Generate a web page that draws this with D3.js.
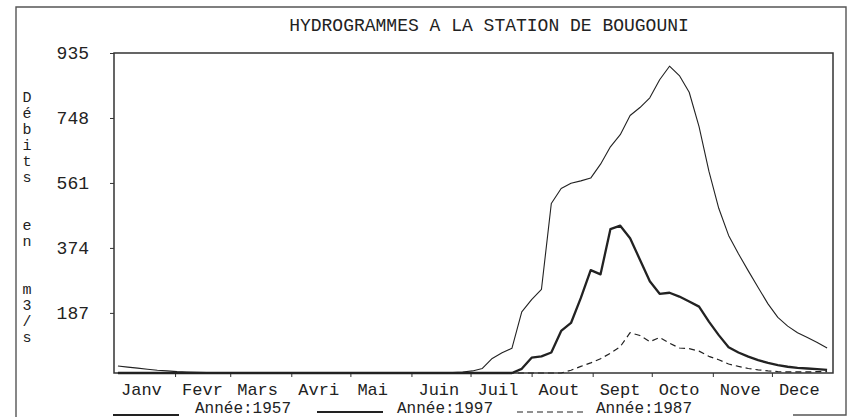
<!DOCTYPE html>
<html>
<head>
<meta charset="utf-8">
<script src="https://cdn.jsdelivr.net/npm/d3@7"></script>
<style>
  body { margin: 0; background: #fff; }
  text { font-family: 'Liberation Mono', 'DejaVu Sans Mono', monospace; fill: #222; }
</style>
</head>
<body>
<div id="chart"></div>
<script>
// mois et debits par pentade (73 pentades, m3/s)
var months = ['Janv', 'Fevr', 'Mars', 'Avri', 'Mai', 'Juin', 'Juil', 'Aout', 'Sept', 'Octo', 'Nove', 'Dece']
var monthStarts = [0, 31, 59, 90, 120, 151, 181, 212, 243, 273, 304, 334, 365]
var yTicks = [187, 374, 561, 748, 935]
var yLabel = 'Débits en m3/s'

var q1957 = [34, 31, 28, 25, 22, 20, 18, 17, 16, 15, 14, 13, 12, 12, 11, 11, 10, 10, 10, 9,
  9, 9, 9, 9, 10, 10, 11, 11, 12, 12, 13, 13, 14, 14, 15, 17, 20, 27, 56, 72,
  85, 190, 225, 255, 502, 545, 560, 567, 575, 615, 665, 700, 755, 778, 806, 858, 897, 870, 822, 723,
  595, 488, 410, 357, 308, 260, 213, 174, 149, 130, 116, 102, 86]

var q1997 = [10, 9, 9, 8, 8, 7, 7, 7, 6, 6, 6, 5, 5, 5, 5, 5, 5, 5, 5, 5,
  5, 5, 5, 5, 5, 5, 5, 5, 5, 5, 5, 5, 5, 5, 5, 5, 6, 7, 8, 10,
  12, 26, 58, 62, 73, 135, 158, 230, 310, 298, 428, 438, 402, 340, 278, 242, 245, 234, 220, 205,
  162, 123, 88, 73, 61, 51, 43, 37, 32, 29, 27, 25, 23]

var q1987 = [12, 11, 11, 10, 10, 9, 9, 8, 8, 8, 7, 7, 7, 7, 6, 6, 6, 6, 6, 6,
  6, 6, 6, 6, 6, 6, 6, 6, 6, 6, 6, 6, 6, 6, 6, 7, 7, 7, 8, 8,
  8, 9, 9, 10, 11, 14, 22, 33, 43, 55, 71, 90, 130, 122, 104, 116, 100, 86, 84, 77,
  62, 52, 40, 33, 27, 23, 20, 18, 17, 17, 17, 18, 18]

var series = [
  { name: 'Année:1957', values: q1957, width: 1.1, dash: null, lx: 113, tx: 195, ly: 415 },
  { name: 'Année:1997', values: q1997, width: 2.3, dash: null, lx: 317, tx: 397, ly: 412 },
  { name: 'Année:1987', values: q1987, width: 1.2, dash: '6,4', lx: 517, tx: 596, ly: 412 }
]

var W = 849
var H = 417
var svg = d3.select('#chart').append('svg')
  .attr('width', W)
  .attr('height', H)

var x = d3.scaleLinear().domain([0, 365]).range([114, 833])
var y = d3.scaleLinear().domain([14, 935]).range([373, 53]).clamp(true)

// cadre exterieur (le bas n'est visible qu'a droite)
svg.append('path')
  .attr('d', 'M16,417 V7 H846 V415 H793')
  .attr('fill', 'none').attr('stroke', '#555').attr('stroke-width', 1.4)

svg.append('text')
  .attr('x', 489).attr('y', 31)
  .attr('text-anchor', 'middle')
  .style('font-size', '18px')
  .text('HYDROGRAMMES A LA STATION DE BOUGOUNI')

// cadre du graphe
svg.append('rect')
  .attr('x', 114).attr('y', 53)
  .attr('width', 719).attr('height', 320)
  .attr('fill', 'none').attr('stroke', '#333').attr('stroke-width', 1.5)

var yAxis = svg.append('g')
  .attr('transform', 'translate(114,0)')
  .call(d3.axisLeft(y).tickValues(yTicks).tickSize(4).tickPadding(21))
yAxis.select('.domain').remove()
yAxis.selectAll('line').attr('stroke', '#333')
yAxis.selectAll('text').style('font-size', '18px').attr('fill', '#222')

var xAxis = svg.append('g')
  .attr('transform', 'translate(0,373)')
  .call(d3.axisBottom(x).tickValues(monthStarts.slice(1, 12)).tickSize(4).tickFormat(''))
xAxis.select('.domain').remove()
xAxis.selectAll('line').attr('stroke', '#333')

svg.selectAll('text.month')
  .data(months)
  .enter().append('text')
  .attr('class', 'month')
  .attr('x', function (d, i) { return x(monthStarts[i]) + 7 })
  .attr('y', 395)
  .style('font-size', '17px')
  .text(function (d) { return d })

// titre de l'axe vertical, une lettre par ligne
var row = 0
yLabel.split('').forEach(function (c) {
  if (c === ' ') { row += 2; return }
  svg.append('text')
    .attr('x', 27)
    .attr('y', 98 + row * 16)
    .attr('text-anchor', 'middle')
    .attr('dominant-baseline', 'middle')
    .style('font-size', '15px')
    .text(c)
  row += 1
})

var line = d3.line()
  .x(function (d, i) { return x(i * 5 + 2) })
  .y(function (d) { return y(d) })

series.forEach(function (s) {
  svg.append('path')
    .datum(s.values)
    .attr('d', line)
    .attr('fill', 'none')
    .attr('stroke', '#222')
    .attr('stroke-width', s.width)
    .attr('stroke-dasharray', s.dash)
    .attr('stroke-linejoin', 'round')

  svg.append('line')
    .attr('x1', s.lx).attr('x2', s.lx + 66)
    .attr('y1', s.ly).attr('y2', s.ly)
    .attr('stroke', '#222')
    .attr('stroke-width', s.dash ? 1.2 : 2)
    .attr('stroke-dasharray', s.dash)

  svg.append('text')
    .attr('x', s.tx).attr('y', 413)
    .style('font-size', '16px')
    .text(s.name)
})
</script>
</body>
</html>
